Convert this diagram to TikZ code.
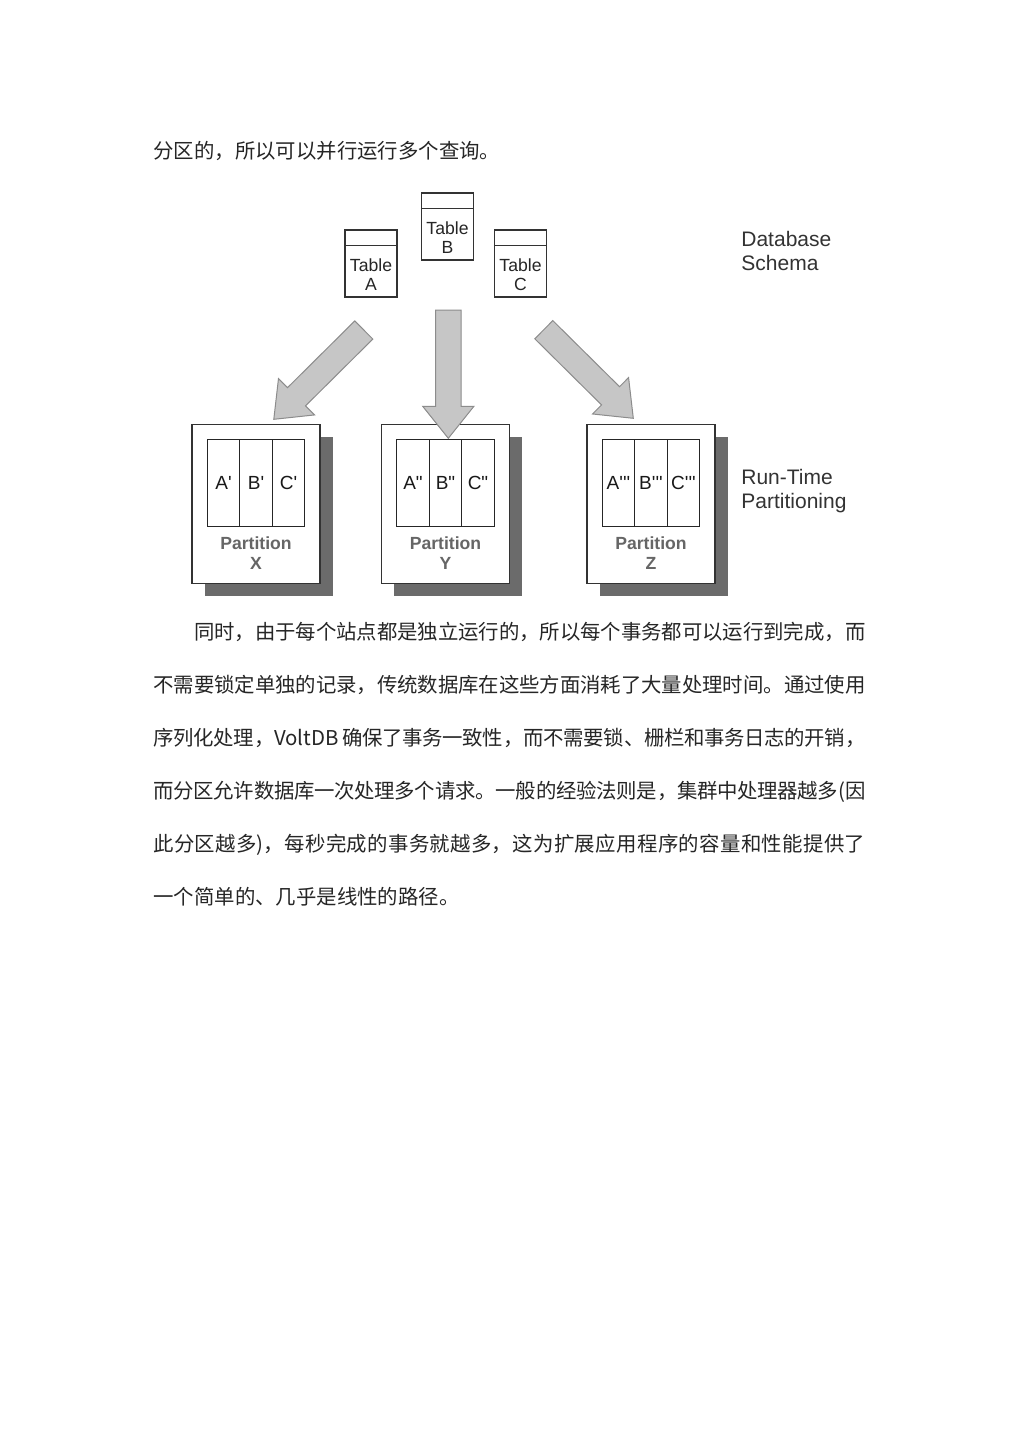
\documentclass[tikz,border=0pt]{standalone}
\usepackage{fontspec}
\usepackage{tikz}
\usetikzlibrary{positioning, calc, shadows}
\setmainfont{Liberation Sans}
\newfontfamily\cjkfont{Noto Sans CJK SC}
\XeTeXlinebreaklocale "zh"
\XeTeXlinebreakskip=0pt plus 1pt minus 0.3pt

% fat grey arrow: tail, tip, name of neck coordinate
\newcommand{\fatarrow}[3]{%
  \coordinate (#3) at ($(#2)!16pt!(#1)$);
  \draw[bigarrow] ($(#1)!6.4pt!90:(#2)$) -- ($(#3)!6.4pt!90:(#2)$)
    -- ($(#3)!12.8pt!90:(#2)$) -- (#2) -- ($(#3)!12.8pt!-90:(#2)$)
    -- ($(#3)!6.4pt!-90:(#2)$) -- ($(#1)!6.4pt!-90:(#2)$) -- cycle;
}

\begin{document}
\begin{tikzpicture}[x=0.5pt, y=-0.5pt,
    every node/.style={font=\fontsize{8.8}{9.6}\selectfont},
    tbl/.style={draw=black!80, line width=0.6pt, fill=white, minimum width=26pt,
                minimum height=33.5pt, inner sep=0pt},
    part/.style={draw=black!80, line width=0.6pt, fill=white, minimum width=64pt,
                 minimum height=79.5pt, inner sep=0pt,
                 drop shadow={shadow xshift=6.25pt, shadow yshift=-6.25pt,
                              fill=black!58, opacity=1}},
    cell/.style={draw=black!85, line width=0.6pt, minimum width=16.25pt,
                 minimum height=43.5pt, inner sep=0pt, outer sep=0pt, text=black!90,
                 font=\fontsize{9.5}{10}\selectfont},
    tlabel/.style={align=center, text=black!85, inner sep=0pt},
    plabel/.style={align=center, font=\bfseries\fontsize{8.8}{9.6}\selectfont,
                   text=black!60, inner sep=0pt},
    side/.style={align=left, anchor=west, inner sep=0pt, text=black!80,
                 font=\fontsize{10.5}{12.3}\selectfont},
    bigarrow/.style={fill=gray!45, draw=black!45, line width=0.5pt},
    body/.style={inner sep=0pt, text=black!85, font=\cjkfont\fontsize{10.2}{26.5}\selectfont}
]
\path[use as bounding box, fill=white] (0,0) rectangle (1019,1440);

\node[body, anchor=base west] (prev) at (153,158) {分区的，所以可以并行运行多个查询。};

% schema
\node[tbl] (tA) at (371,263.5) {};
\node[tbl] (tB) at (447.5,226.5) {};
\node[tbl] (tC) at (520.5,263.5) {};
\draw[black!80, line width=0.6pt] ($(tA.north west)+(0,16)$) -- ($(tA.north east)+(0,16)$);
\draw[black!80, line width=0.6pt] ($(tB.north west)+(0,16)$) -- ($(tB.north east)+(0,16)$);
\draw[black!80, line width=0.6pt] ($(tC.north west)+(0,16)$) -- ($(tC.north east)+(0,16)$);
\node[tlabel] (lA) at ($(tA.center)+(0,11)$) {Table\\A};
\node[tlabel] (lB) at ($(tB.center)+(0,11)$) {Table\\B};
\node[tlabel] (lC) at ($(tC.center)+(0,11)$) {Table\\C};
\node[side] (schema) at (741,251) {Database\\Schema};

% partitions
\node[part] (pX) at (256,503.7) {};
\node[cell] (xA) at ($(pX.center)+(-32.5,-21)$) {A\textquotesingle};
\node[cell, right=0pt of xA] (xB) {B\textquotesingle};
\node[cell, right=0pt of xB] (xC) {C\textquotesingle};
\node[plabel] (lX) at ($(pX.center)+(0,49.5)$) {Partition\\X};

\node[part] (pY) at (445.5,503.7) {};
\node[cell] (yA) at ($(pY.center)+(-32.5,-21)$) {A\textquotedbl};
\node[cell, right=0pt of yA] (yB) {B\textquotedbl};
\node[cell, right=0pt of yB] (yC) {C\textquotedbl};
\node[plabel] (lY) at ($(pY.center)+(0,49.5)$) {Partition\\Y};

\node[part] (pZ) at (651,503.7) {};
\node[cell] (zA) at ($(pZ.center)+(-32.5,-21)$) {A\textquotesingle\textquotesingle\textquotesingle};
\node[cell, right=0pt of zA] (zB) {B\textquotesingle\textquotesingle\textquotesingle};
\node[cell, right=0pt of zB] (zC) {C\textquotesingle\textquotesingle\textquotesingle};
\node[plabel] (lZ) at ($(pZ.center)+(0,49.5)$) {Partition\\Z};
\node[side] (runtime) at (741,491) {Run-Time\\Partitioning};

% arrows
\coordinate (aT) at (363.8,330);
\coordinate (aP) at (273.8,419.3);
\coordinate (bT) at (448.3,310);
\coordinate (bP) at (448.3,438.3);
\coordinate (cT) at (543.8,329.7);
\coordinate (cP) at (633.3,418.3);
\fatarrow{aT}{aP}{aN}
\fatarrow{bT}{bP}{bN}
\fatarrow{cT}{cP}{cN}

\node[body, anchor=north west, text width=356pt, align=justify] (para) at (153,622) {%
\noindent\hspace*{2em}同时，由于每个站点都是独立运行的，所以每个事务都可以运行到完成，而\linebreak
不需要锁定单独的记录，传统数据库在这些方面消耗了大量处理时间。通过使用\linebreak
序列化处理，VoltDB 确保了事务一致性，而不需要锁、栅栏和事务日志的开销，\linebreak
而分区允许数据库一次处理多个请求。一般的经验法则是，集群中处理器越多(因\linebreak
此分区越多)，每秒完成的事务就越多，这为扩展应用程序的容量和性能提供了\linebreak
一个简单的、几乎是线性的路径。};
\end{tikzpicture}
\end{document}
